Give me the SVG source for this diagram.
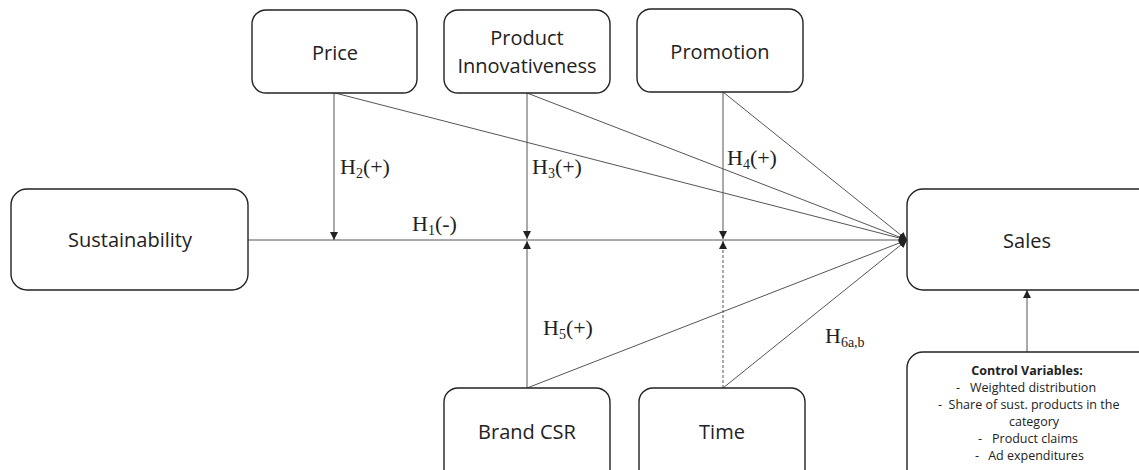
<svg xmlns="http://www.w3.org/2000/svg" width="1139" height="470" viewBox="0 0 1139 470">
<defs>
<marker id="arr" viewBox="0 0 10 10" refX="10" refY="5" markerWidth="8" markerHeight="8" markerUnits="userSpaceOnUse" orient="auto">
<path d="M0,0 L10,5 L0,10 z" fill="#222"/>
</marker>
<style>
.box{fill:#fff;stroke:#222;stroke-width:1.4}
.lbl{font-family:"Open Sans","Noto Sans",sans-serif;font-size:20px;fill:#222;text-anchor:middle}
.ln{stroke:#555;stroke-width:1;fill:none}
.h{font-family:"Liberation Serif",serif;font-size:22px;fill:#222}
.sub{font-size:14px}
.cv{font-family:"Open Sans","Noto Sans",sans-serif;font-size:12.5px;fill:#222;text-anchor:middle}
.cd{font-family:"Open Sans","Noto Sans",sans-serif;font-size:12.5px;fill:#222}
</style>
</defs>
<rect width="1139" height="470" fill="#fff"/>
<g id="connectors">
<line class="ln" x1="248" y1="240" x2="907" y2="240" marker-end="url(#arr)"/>
<line class="ln" x1="334" y1="93" x2="334" y2="240" marker-end="url(#arr)"/>
<line class="ln" x1="527" y1="93" x2="527" y2="239" marker-end="url(#arr)"/>
<line class="ln" x1="723" y1="92" x2="723" y2="239" marker-end="url(#arr)"/>
<line class="ln" x1="527" y1="388" x2="527" y2="241" marker-end="url(#arr)"/>
<line class="ln" x1="723" y1="388" x2="723" y2="241" stroke-dasharray="3,2" marker-end="url(#arr)"/>
<line class="ln" x1="335" y1="93" x2="907" y2="240" marker-end="url(#arr)"/>
<line class="ln" x1="527" y1="93" x2="907" y2="240" marker-end="url(#arr)"/>
<line class="ln" x1="723" y1="92" x2="907" y2="240" marker-end="url(#arr)"/>
<line class="ln" x1="527" y1="388" x2="907" y2="240" marker-end="url(#arr)"/>
<line class="ln" x1="723" y1="388" x2="907" y2="240" marker-end="url(#arr)"/>
<line class="ln" x1="1027" y1="352" x2="1027" y2="290" marker-end="url(#arr)"/>
<text class="h" x="340" y="174">H<tspan class="sub" dy="4">2</tspan><tspan dy="-4">(+)</tspan></text>
<text class="h" x="532" y="174">H<tspan class="sub" dy="4">3</tspan><tspan dy="-4">(+)</tspan></text>
<text class="h" x="727" y="165">H<tspan class="sub" dy="4">4</tspan><tspan dy="-4">(+)</tspan></text>
<text class="h" x="412" y="231">H<tspan class="sub" dy="4">1</tspan><tspan dy="-4">(-)</tspan></text>
<text class="h" x="543" y="335">H<tspan class="sub" dy="4">5</tspan><tspan dy="-4">(+)</tspan></text>
<text class="h" x="825" y="343">H<tspan class="sub" dy="4">6a,b</tspan></text>
</g>
<g id="price">
<rect class="box" x="252" y="10" width="165" height="83" rx="14"/>
<text class="lbl" x="335" y="60">Price</text>
</g>
<g id="innovativeness">
<rect class="box" x="444" y="10" width="166" height="83" rx="14"/>
<text class="lbl" x="527" y="45">Product</text>
<text class="lbl" x="527" y="73">Innovativeness</text>
</g>
<g id="promotion">
<rect class="box" x="637" y="9" width="166" height="83" rx="14"/>
<text class="lbl" x="720" y="59">Promotion</text>
</g>
<g id="sustainability">
<rect class="box" x="11" y="189" width="237" height="101" rx="16"/>
<text class="lbl" x="130" y="247">Sustainability</text>
</g>
<g id="sales">
<rect class="box" x="907" y="189" width="250" height="101" rx="16"/>
<text class="lbl" x="1027" y="248">Sales</text>
</g>
<g id="brandcsr">
<rect class="box" x="444" y="388" width="166" height="100" rx="14"/>
<text class="lbl" x="527" y="439">Brand CSR</text>
</g>
<g id="time">
<rect class="box" x="639" y="388" width="166" height="100" rx="14"/>
<text class="lbl" x="722" y="439">Time</text>
</g>
<g id="control">
<rect class="box" x="907" y="352" width="250" height="140" rx="16"/>
<text class="cv" x="1027" y="375" font-weight="bold">Control Variables:</text>
<text class="cd" x="956" y="392">-</text>
<text class="cv" x="1033" y="392">Weighted distribution</text>
<text class="cd" x="938" y="409">-</text>
<text class="cv" x="1034" y="409">Share of sust. products in the</text>
<text class="cv" x="1034" y="426">category</text>
<text class="cd" x="978" y="443">-</text>
<text class="cv" x="1035" y="443">Product claims</text>
<text class="cd" x="975" y="460">-</text>
<text class="cv" x="1036" y="460">Ad expenditures</text>
</g>
</svg>
